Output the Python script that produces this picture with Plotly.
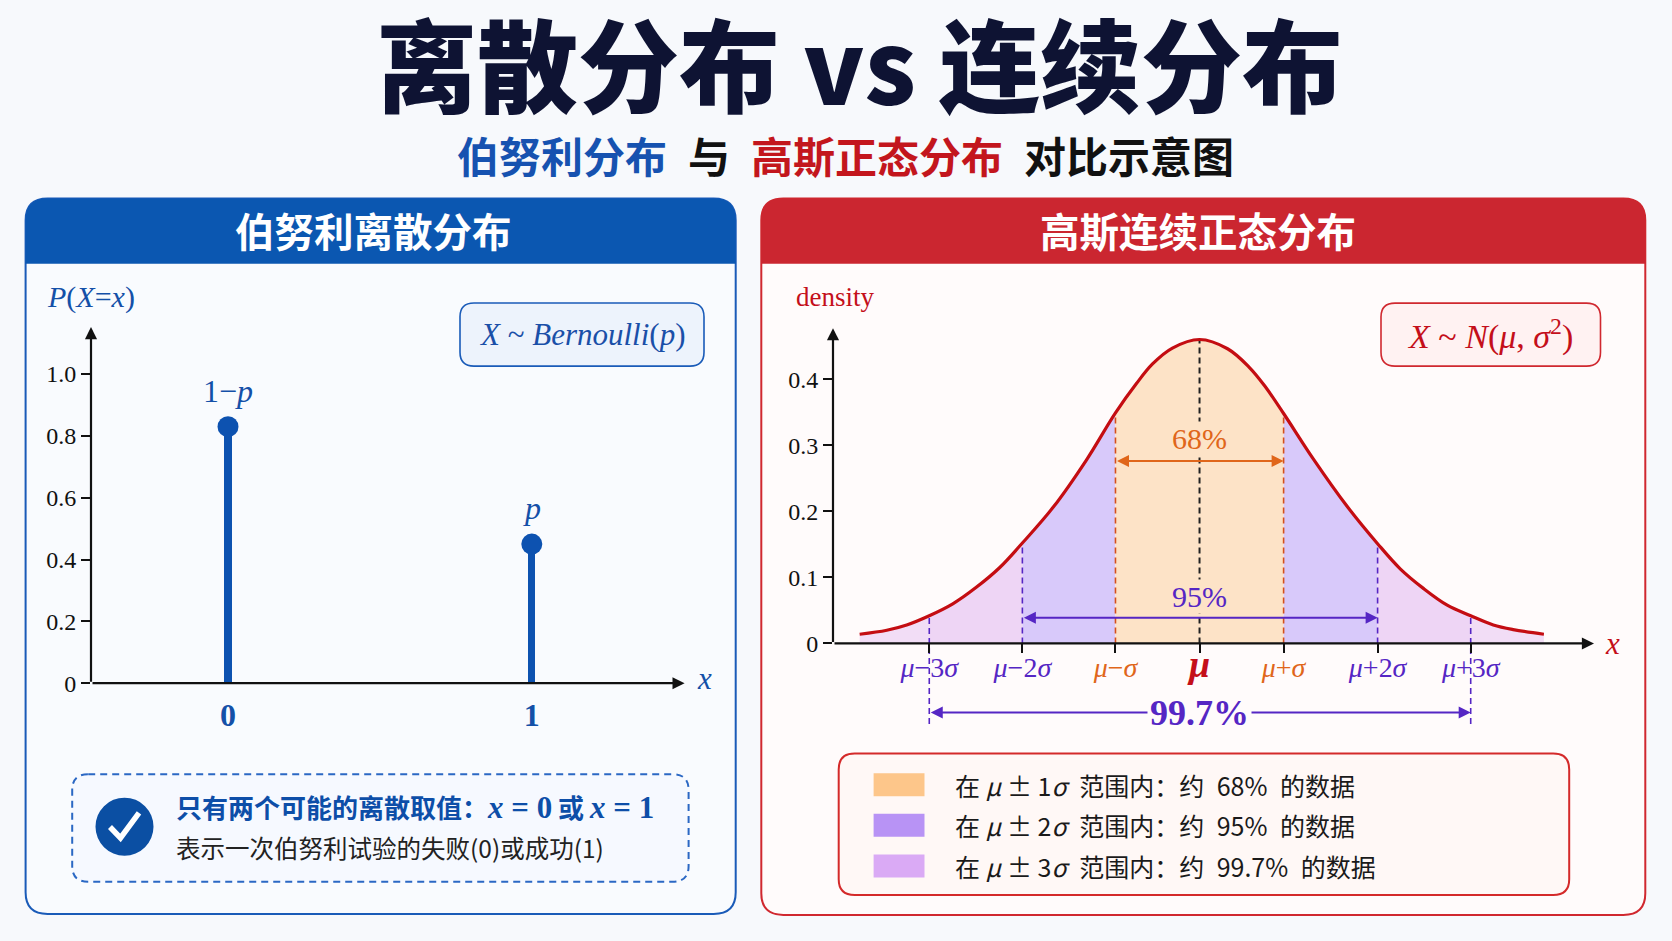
import plotly.graph_objects as go

W, H = 1672, 941
K = 0.985  # measured vertical render factor of the photographed page

# ---------------- data ----------------
bern_x = [0, 1]
bern_prob = [0.83, 0.45]
bern_point_labels = ["1−<i>p</i>", "<i>p</i>"]
bern_ytick_vals = [0, 0.2, 0.4, 0.6, 0.8, 1.0]
bern_ytick_text = ["0", "0.2", "0.4", "0.6", "0.8", "1.0"]
bern_xtick_text = ["<b>0</b>", "<b>1</b>"]

curve_x = [-3.76, -3.46, -3.24, -2.99, -2.73, -2.47, -2.21, -1.96, -1.62, -1.25, -0.93, -0.70,
           -0.52, -0.30, 0.0, 0.31, 0.55, 0.72, 0.93, 1.26, 1.63, 1.97, 2.22, 2.48, 2.74, 3.0,
           3.25, 3.47, 3.81]
curve_y = [0.014, 0.020, 0.028, 0.042, 0.060, 0.085, 0.115, 0.152, 0.206, 0.278, 0.349, 0.393,
           0.423, 0.447, 0.460, 0.446, 0.418, 0.390, 0.348, 0.279, 0.208, 0.151, 0.113, 0.083,
           0.058, 0.042, 0.028, 0.021, 0.014]
sigma_pos = [-2.99, -1.96, -0.93, 0.0, 0.93, 1.97, 3.0]
sigma_labels = ["<i>μ</i>−3<i>σ</i>", "<i>μ</i>−2<i>σ</i>", "<i>μ</i>−<i>σ</i>", "<b><i>μ</i></b>",
                "<i>μ</i>+<i>σ</i>", "<i>μ</i>+2<i>σ</i>", "<i>μ</i>+3<i>σ</i>"]
sigma_label_colors = ["#5526c4", "#5526c4", "#e0661a", "#c40f1a", "#e0661a", "#5526c4", "#5526c4"]
gauss_ytick_vals = [0, 0.1, 0.2, 0.3, 0.4]
gauss_ytick_text = ["0", "0.1", "0.2", "0.3", "0.4"]
band_labels = ["68%", "95%", "99.7%"]
SP = "\u2002"
legend_texts = [
    f"在 <i>μ</i> ± 1<i>σ</i>{SP}范围内：约{SP}68%{SP}的数据",
    f"在 <i>μ</i> ± 2<i>σ</i>{SP}范围内：约{SP}95%{SP}的数据",
    f"在 <i>μ</i> ± 3<i>σ</i>{SP}范围内：约{SP}99.7%{SP}的数据",
]
legend_colors = ["#fdc68a", "#b893f5", "#daaaf5"]

# ---------------- helpers ----------------
def fx(px):
    return px / W


def fy(py):
    return 1 - (py / K) / H


def rrect_path(x0, y0, x1, y1, r, top_only=False):
    rx, ry = r / W, r / H
    X0, X1 = fx(x0), fx(x1)
    Y0, Y1 = fy(y0), fy(y1)  # Y0 top (larger), Y1 bottom
    p = f"M {X0 + rx} {Y0} L {X1 - rx} {Y0} Q {X1} {Y0} {X1} {Y0 - ry} "
    if top_only:
        p += f"L {X1} {Y1} L {X0} {Y1} "
    else:
        p += f"L {X1} {Y1 + ry} Q {X1} {Y1} {X1 - rx} {Y1} L {X0 + rx} {Y1} Q {X0} {Y1} {X0} {Y1 + ry} "
    p += f"L {X0} {Y0 - ry} Q {X0} {Y0} {X0 + rx} {Y0} Z"
    return p


def txt(text, xp, yp, font, xanchor="center", yanchor="middle", **kw):
    d = dict(text=text, x=fx(xp), y=fy(yp), xref="paper", yref="paper", showarrow=False,
             xanchor=xanchor, yanchor=yanchor, font=font)
    d.update(kw)
    return d


SERIF = "Liberation Serif"
CJK = "Noto Sans CJK SC"
PURPLE = "#5526c4"
ORANGE = "#e0661a"

fig = go.Figure()

# ---------------- left: Bernoulli ----------------
L_x0, L_x1 = 91, 684.6
L_ybot, L_ytop = 682.4, 326.7
L_xr = [-0.451, 1.503]
L_yr = [0, 1.152]

fig.add_trace(go.Bar(x=bern_x, y=bern_prob, width=0.024, marker=dict(color="#0d52b0", line=dict(width=0)),
                     xaxis="x", yaxis="y", hoverinfo="skip"))
fig.add_trace(go.Scatter(x=bern_x, y=bern_prob, mode="markers",
                         marker=dict(size=21, color="#0d52b0"), xaxis="x", yaxis="y", hoverinfo="skip"))

# ---------------- right: Gaussian ----------------
R_x0, R_x1 = 833, 1594
R_y0px = 642.7
R_ppu = 660.0
R_yr = [-0.135, 0.477]
R_ybot = R_y0px + (0 - R_yr[0]) * R_ppu
R_ytop = R_y0px - R_yr[1] * R_ppu
R_xr = [-4.055, 4.364]

cy = dict(zip(curve_x, curve_y))


def seg(a, b):
    xs = [x for x in curve_x if a <= x <= b]
    return xs, [cy[x] for x in xs]


tail_col = "#f2ddf6"
c3 = "#eed5f5"
c2 = "#d8c9fa"
c1 = "#fde3c7"
regions = [
    (curve_x[0], sigma_pos[0], tail_col),
    (sigma_pos[0], sigma_pos[1], c3),
    (sigma_pos[1], sigma_pos[2], c2),
    (sigma_pos[2], sigma_pos[4], c1),
    (sigma_pos[4], sigma_pos[5], c2),
    (sigma_pos[5], sigma_pos[6], c3),
    (sigma_pos[6], curve_x[-1], tail_col),
]
for a, b, col in regions:
    xs, ys = seg(a, b)
    fig.add_trace(go.Scatter(x=xs, y=ys, mode="lines", line=dict(width=0, shape="spline"),
                             fill="tozeroy", fillcolor=col, xaxis="x2", yaxis="y2", hoverinfo="skip"))

dash_cols = [PURPLE, PURPLE, "#d4501c", "#222222", "#d4501c", PURPLE, PURPLE]
for i, p in enumerate(sigma_pos):
    top = cy[p]
    bot = -0.122 if i in (0, 6) else 0
    fig.add_trace(go.Scatter(x=[p, p], y=[bot, top], mode="lines",
                             line=dict(color=dash_cols[i], width=1.6 if i != 3 else 2, dash="6px,4px"),
                             xaxis="x2", yaxis="y2", hoverinfo="skip"))

fig.add_trace(go.Scatter(x=curve_x, y=curve_y, mode="lines",
                         line=dict(color="#c40d12", width=3.2, shape="spline"),
                         xaxis="x2", yaxis="y2", hoverinfo="skip"))

# ---------------- shapes ----------------
shapes = []
shapes.append(dict(type="path", path=rrect_path(25.6, 198.3, 735.7, 912.8, 22), xref="paper", yref="paper",
                   fillcolor="#f9fbfe", line=dict(color="#1a5bb8", width=2), layer="below"))
shapes.append(dict(type="path", path=rrect_path(25.6, 198.3, 735.7, 263.4, 22, top_only=True), xref="paper",
                   yref="paper", fillcolor="#0b57b1", line=dict(width=0), layer="below"))
shapes.append(dict(type="path", path=rrect_path(761.3, 198.3, 1645.3, 913.8, 22), xref="paper", yref="paper",
                   fillcolor="#fffbfb", line=dict(color="#d0282f", width=2), layer="below"))
shapes.append(dict(type="path", path=rrect_path(761.3, 198.3, 1645.3, 263.4, 22, top_only=True), xref="paper",
                   yref="paper", fillcolor="#cb2630", line=dict(width=0), layer="below"))
shapes.append(dict(type="path", path=rrect_path(460, 302.7, 704, 365.7, 14), xref="paper", yref="paper",
                   fillcolor="#edf3fc", line=dict(color="#1a5bb8", width=1.6), layer="below"))
shapes.append(dict(type="path", path=rrect_path(1381, 302.8, 1600.5, 365.7, 14), xref="paper", yref="paper",
                   fillcolor="#fff2f2", line=dict(color="#d0282f", width=1.6), layer="below"))
shapes.append(dict(type="path", path=rrect_path(72.2, 773.3, 688.6, 880.7, 16), xref="paper", yref="paper",
                   fillcolor="#f6f9ff", line=dict(color="#2b68c4", width=2, dash="7px,5px"), layer="below"))
shapes.append(dict(type="circle", xref="paper", yref="paper", x0=fx(124.5 - 29), x1=fx(124.5 + 29),
                   y0=fy(825.7 + 29), y1=fy(825.7 - 29), fillcolor="#0b4fa3", line=dict(width=0)))
shapes.append(dict(type="path", xref="paper", yref="paper",
                   path=f"M {fx(110)} {fy(826)} L {fx(120.5)} {fy(837)} L {fx(139)} {fy(812)}",
                   line=dict(color="white", width=5.5)))
shapes.append(dict(type="path", path=rrect_path(838.7, 752.7, 1569.2, 894, 16), xref="paper", yref="paper",
                   fillcolor="#fff8f6", line=dict(color="#d42a2a", width=2), layer="below"))
row_y = [783.7, 824.3, 865.0]
for ry, col in zip(row_y, legend_colors):
    shapes.append(dict(type="rect", xref="paper", yref="paper", x0=fx(873.6), x1=fx(924.5),
                       y0=fy(ry + 11.5), y1=fy(ry - 11.5), fillcolor=col, line=dict(width=0)))

# ---------------- annotations ----------------
ann = []
ann.append(txt("离散分布 vs 连续分布", 860, 60.5, dict(family=CJK, size=101, color="#0e1333", weight=900)))
ann.append(txt("<span style='color:#1652b0'>伯努利分布</span>\u2002<span style='color:#111111'>与</span>\u2002"
               "<span style='color:#c3161d'>高斯正态分布</span>\u2002<span style='color:#111111'>对比示意图</span>",
               846, 154, dict(family=CJK, size=42, weight=700)))
ann.append(txt("伯努利离散分布", 373, 229, dict(family=CJK, size=39.5, color="white", weight=700)))
ann.append(txt("高斯连续正态分布", 1198, 229, dict(family=CJK, size=39.5, color="white", weight=700)))

ann.append(txt("<i>P</i>(<i>X</i>=<i>x</i>)", 45, 297, dict(family=SERIF, size=30, color="#1450a8"),
               xanchor="left"))
ann.append(txt("<i>X</i> ~ <i>Bernoulli</i>(<i>p</i>)", 582, 334, dict(family=SERIF, size=31, color="#1a4fa8")))
for xv, pv, lab in zip(bern_x, bern_prob, bern_point_labels):
    ann.append(dict(text=lab, x=xv, y=pv, xref="x", yref="y", showarrow=False, yshift=36,
                    xanchor="center", yanchor="middle",
                    font=dict(family=SERIF, size=32, color="#1450a8")))
ann.append(dict(text="", x=L_xr[1], y=0, ax=L_xr[0], ay=0, xref="x", yref="y", axref="x", ayref="y",
                showarrow=True, arrowhead=2, arrowsize=1.1, arrowwidth=2.2, arrowcolor="#111111", standoff=0))
ann.append(dict(text="", x=L_xr[0], y=L_yr[1], ax=L_xr[0], ay=0, xref="x", yref="y", axref="x", ayref="y",
                showarrow=True, arrowhead=2, arrowsize=1.1, arrowwidth=2.2, arrowcolor="#111111", standoff=0))
ann.append(txt("<i>x</i>", 704, 678, dict(family=SERIF, size=31, color="#1450a8")))
ann.append(txt("只有两个可能的离散取值：<span style='font-family:Liberation Serif;font-size:31px'><i>x</i> = 0</span>"
               " 或 <span style='font-family:Liberation Serif;font-size:31px'><i>x</i> = 1</span>",
               174, 806, dict(family=CJK, size=26, color="#0d4ea8", weight=700), xanchor="left"))
ann.append(txt("表示一次伯努利试验的失败(0)或成功(1)", 174, 846, dict(family=CJK, size=24.5, color="#222222"),
               xanchor="left"))

ann.append(txt("density", 835, 297, dict(family=SERIF, size=27, color="#c40f1a")))
ann.append(txt("<i>X</i> ~ <i>N</i>(<i>μ</i>, <i>σ</i><sup>2</sup>)", 1490, 334,
               dict(family=SERIF, size=34, color="#c40f1a")))
ann.append(dict(text="", x=R_xr[1], y=0, ax=R_xr[0], ay=0, xref="x2", yref="y2", axref="x2", ayref="y2",
                showarrow=True, arrowhead=2, arrowsize=1.1, arrowwidth=2.2, arrowcolor="#111111", standoff=0))
ann.append(dict(text="", x=R_xr[0], y=R_yr[1], ax=R_xr[0], ay=0, xref="x2", yref="y2", axref="x2", ayref="y2",
                showarrow=True, arrowhead=2, arrowsize=1.1, arrowwidth=2.2, arrowcolor="#111111", standoff=0))
ann.append(txt("<i>x</i>", 1612, 643, dict(family=SERIF, size=31, color="#c40f1a")))
band_y = [0.276, 0.039, -0.1045]
band_x = [(sigma_pos[2], sigma_pos[4]), (sigma_pos[1], sigma_pos[5]), (sigma_pos[0], sigma_pos[6])]
band_cols = [ORANGE, PURPLE, PURPLE]
for (a, b), yv, col in zip(band_x, band_y, band_cols):
    ann.append(dict(text="", x=b, y=yv, ax=a, ay=yv, xref="x2", yref="y2", axref="x2", ayref="y2",
                    showarrow=True, arrowhead=2, startarrowhead=2, arrowside="end+start", arrowsize=1.2,
                    arrowwidth=2, arrowcolor=col, standoff=0, startstandoff=0))
ann.append(dict(text=band_labels[0], x=0, y=0.276, xref="x2", yref="y2", showarrow=False, yshift=23,
                xanchor="center", yanchor="middle", bgcolor=c1, borderpad=0,
                font=dict(family=SERIF, size=30, color=ORANGE)))
ann.append(dict(text=band_labels[1], x=0, y=0.039, xref="x2", yref="y2", showarrow=False, yshift=21,
                xanchor="center", yanchor="middle", bgcolor=c1, borderpad=0,
                font=dict(family=SERIF, size=30, color=PURPLE)))
ann.append(dict(text=band_labels[2], x=0, y=-0.1045, xref="x2", yref="y2", showarrow=False,
                xanchor="center", yanchor="middle", bgcolor="#fffbfb", borderpad=2,
                font=dict(family=SERIF, size=36, color=PURPLE, weight=600)))
for ry, t in zip(row_y, legend_texts):
    ann.append(txt(t, 953, ry, dict(family=CJK, size=25, color="#1a1a1a"), xanchor="left"))

sig_ticktext = [f"<span style='color:{c}'>{t}</span>" if i != 3 else
                f"<span style='color:{c};font-size:38px'>{t}</span>"
                for i, (t, c) in enumerate(zip(sigma_labels, sigma_label_colors))]

fig.update_layout(
    autosize=True, margin=dict(l=0, r=0, t=0, b=0, pad=0),
    paper_bgcolor="#f7f9fc", plot_bgcolor="rgba(0,0,0,0)", showlegend=False,
    shapes=shapes, annotations=ann, bargap=0,
    xaxis=dict(domain=[fx(L_x0), fx(L_x1)], range=L_xr, showgrid=False, zeroline=False, showline=False,
               tickvals=bern_x, ticktext=bern_xtick_text, ticks="", ticklabelstandoff=10,
               tickfont=dict(family=SERIF, size=32, color="#1450a8"), anchor="y", fixedrange=True),
    yaxis=dict(domain=[fy(L_ybot), fy(L_ytop)], range=L_yr, showgrid=False, zeroline=False, showline=False,
               tickvals=bern_ytick_vals, ticktext=bern_ytick_text, ticks="outside", ticklen=9, tickwidth=2,
               tickcolor="#111111", tickfont=dict(family=SERIF, size=24, color="#111111"), anchor="x",
               fixedrange=True),
    xaxis2=dict(domain=[fx(R_x0), fx(R_x1)], range=R_xr, showgrid=False, zeroline=False, showline=False,
                tickvals=sigma_pos, ticktext=sig_ticktext, ticks="outside", ticklen=9, tickwidth=2,
                tickcolor="#111111", tickfont=dict(family=SERIF, size=28), anchor="free",
                position=fy(R_y0px), ticklabelstandoff=-10, fixedrange=True),
    yaxis2=dict(domain=[fy(R_ybot), fy(R_ytop)], range=R_yr, showgrid=False, zeroline=False, showline=False,
                tickvals=gauss_ytick_vals, ticktext=gauss_ytick_text, ticks="outside", ticklen=9, tickwidth=2,
                tickcolor="#111111", tickfont=dict(family=SERIF, size=24, color="#111111"), anchor="x2",
                fixedrange=True),
)

fig.write_html(
    "out.html",
    config={"displayModeBar": False, "responsive": True},
    default_width="100vw",
    default_height="100vh",
    post_script=(
        "document.documentElement.style.margin='0';document.documentElement.style.overflow='hidden';"
        "document.body.style.margin='0';document.body.style.overflow='hidden';"
        "Plotly.Plots.resize(document.getElementById('{plot_id}'));"
    ),
)
